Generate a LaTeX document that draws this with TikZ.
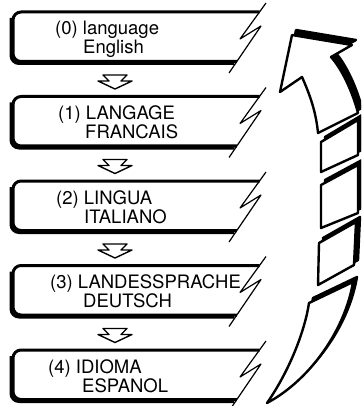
\documentclass[tikz,border=0pt]{standalone}
\usepackage{fontspec}
\setmainfont{TeX Gyre Heros}

% outlines of the curved arrow pieces (pixel coordinates)
\newcommand{\headpiece}{(318,133) -- (358,113) .. controls (352,90) and (341,68) .. (331,57)
    -- (352,45) -- (292,35) -- (280,92) -- (302,77) .. controls (310,95) and (316,112) .. (318,133) -- cycle}
\newcommand{\blockA}{(321,142) -- (358,120) -- (358,155) -- (321,172) -- cycle}
\newcommand{\blockB}{(321,185) -- (358,165) -- (358,213) -- (321,228) -- cycle}
\newcommand{\blockC}{(319,243) -- (356,222) -- (354,265) -- (318,285) -- cycle}
\newcommand{\tailpiece}{(309,303) -- (353,282) .. controls (345,330) and (310,380) .. (267,403)
    .. controls (290,370) and (305,330) .. (309,303) -- cycle}

\begin{document}
\begin{tikzpicture}[
        x = 1pt, y = -1pt,
        line join = round,
        boxline/.style = {line width = 3pt, rounded corners = 8pt},
        zigzag/.style = {line width = 1.2pt},
        downarrow/.style = {line width = 1.4pt, fill = white},
        piece/.style = {line width = 2.4pt, fill = white},
        pieceshadow/.style = {line width = 2.4pt, fill = black},
        label text/.style = {font = \fontsize{18.5}{22}\selectfont, inner sep = 0pt, anchor = base west}
    ]

    \useasboundingbox (0, 0) rectangle (361, 406);
    \clip (0, 0) rectangle (361, 406);

    % language boxes
    \foreach \i/\ta/\tb/\xa/\xb in {0/{(0) language}/{English}/55/83,
                                  1/{(1) LANGAGE}/{FRANCAIS}/58/85,
                                  2/{(2) LINGUA}/{ITALIANO}/56/84,
                                  3/{(3) LANDESSPRACHE}/{DEUTSCH}/50/83,
                                  4/{(4) IDIOMA}/{ESPANOL}/48/82} {
        \pgfmathsetmacro\T{12 + 84.5*\i}
        \draw[boxline] (11, \T + 6) -- (11, \T + 51.5) -- (234, \T + 51.5);
        \draw[boxline] (259.5, \T) -- (13, \T) -- (13, \T + 49.5) -- (236.8, \T + 49.5);
        \draw[zigzag] (266, \T - 9) -- (240, \T + 27) -- (261, \T + 14) -- (229, \T + 61);
        \node[label text] (t\i a) at (\xa, \T + 23) {\ta};
        \node[label text] (t\i b) at (\xb, \T + 42) {\tb};
    }

    % hollow arrows between the boxes
    \foreach \i in {0, 1, 2, 3} {
        \pgfmathsetmacro\Y{75 + 84.5*\i}
        \draw[downarrow] (103, \Y) -- (127, \Y) -- (121, \Y + 6) -- (132, \Y + 6)
            -- (115, \Y + 14) -- (98, \Y + 6) -- (109, \Y + 6) -- cycle;
    }

    % curved arrow on the right
    \foreach \p in {\tailpiece, \blockC, \blockB, \blockA, \headpiece} {
        \draw[pieceshadow, shift = {(4, -5)}] \p;
        \draw[piece] \p;
    }

\end{tikzpicture}
\end{document}
